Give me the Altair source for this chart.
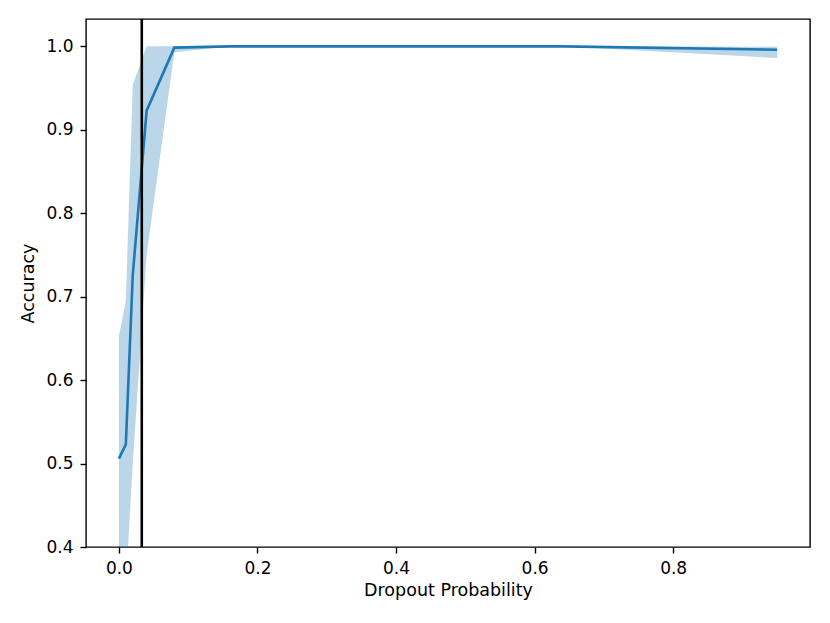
import altair as alt
import pandas as pd

# Data
dropout = [0.0, 0.01, 0.02, 0.04, 0.08, 0.16, 0.32, 0.64, 0.95]
acc_mean = [0.506, 0.523, 0.726, 0.923, 0.9985, 1.0, 1.0, 1.0, 0.996]
acc_low = [0.357, 0.354, 0.500, 0.750, 0.993, 1.0, 1.0, 1.0, 0.986]
acc_high = [0.653, 0.695, 0.954, 1.0, 1.0, 1.0, 1.0, 1.0, 0.9995]
threshold = [0.033]
x_ticks = [0.0, 0.2, 0.4, 0.6, 0.8]
y_ticks = [0.4, 0.5, 0.6, 0.7, 0.8, 0.9, 1.0]

df = pd.DataFrame({"p": dropout, "acc": acc_mean, "lo": acc_low, "hi": acc_high})
df_rule = pd.DataFrame({"p": threshold})

FONT = "DejaVu Sans"
BLUE = "#1f77b4"

xscale = alt.Scale(domain=[-0.0475, 0.9975], nice=False, zero=False)
yscale = alt.Scale(domain=[0.4, 1.0328], nice=False, zero=False)

xaxis = alt.Axis(values=x_ticks, format=".1f", title="Dropout Probability", grid=False)
yaxis = alt.Axis(values=y_ticks, format=".1f", title="Accuracy", grid=False)

band = alt.Chart(df).mark_area(color=BLUE, opacity=0.3, clip=True).encode(
    x=alt.X("p:Q", scale=xscale, axis=xaxis),
    y=alt.Y("lo:Q", scale=yscale, axis=yaxis),
    y2="hi:Q",
)

line = alt.Chart(df).mark_line(color=BLUE, strokeWidth=2.6, clip=True).encode(
    x=alt.X("p:Q", scale=xscale),
    y=alt.Y("acc:Q", scale=yscale),
)

rule = alt.Chart(df_rule).mark_rule(color="black", strokeWidth=2.6).encode(
    x=alt.X("p:Q", scale=xscale),
)

chart = (
    alt.layer(band, line, rule)
    .properties(
        width=724,
        height=528,
        autosize=alt.AutoSizeParams(type="none"),
        padding={"left": 78, "top": 11, "right": 12, "bottom": 60},
        background="white",
    )
    .configure_view(stroke="black", strokeWidth=1.4)
    .configure_axis(
        domain=False,
        tickColor="black",
        tickWidth=1.4,
        tickSize=6,
        labelColor="black",
        labelFont=FONT,
        labelFontSize=17,
        titleFont=FONT,
        titleFontSize=17.5,
        titleFontWeight="normal",
        titleColor="black",
    )
    .configure_axisX(labelPadding=7, titlePadding=5)
    .configure_axisY(labelPadding=7, titlePadding=8)
)

chart.save("out.html", embed_options={"renderer": "svg", "actions": False})
